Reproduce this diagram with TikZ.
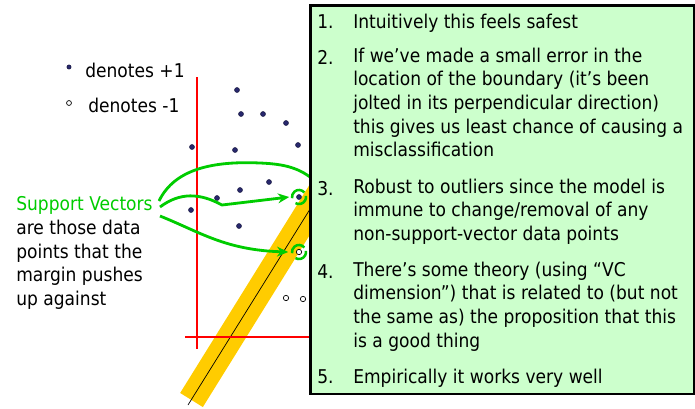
\documentclass[tikz,border=0pt]{standalone}
\usepackage{fontspec}
\setmainfont{DejaVu Sans}[FakeStretch=0.9]
\usetikzlibrary{arrows.meta}
\definecolor{svgreen}{RGB}{0,204,0}
\definecolor{boxgreen}{RGB}{204,255,204}
\definecolor{dotblue}{RGB}{40,40,110}
\definecolor{bandyellow}{RGB}{255,204,0}
\tikzset{
  plusdot/.style={circle, fill=dotblue, draw=dotblue!60!black, inner sep=0pt, minimum size=3.5pt},
  minusdot/.style={circle, fill=white, draw=black, line width=0.5pt, inner sep=0pt, minimum size=3.8pt},
  txt/.style={inner sep=0pt, anchor=north west, align=left, execute at begin node=\strut},
  svarrow/.style={svgreen, line width=2pt, -{Stealth[length=8pt, width=7pt]}},
  svring/.style={svgreen, line width=1.8pt},
}
\begin{document}
\begin{tikzpicture}[x=0.025cm, y=-0.025cm, font=\fontsize{13.5}{16.8}\selectfont]
\useasboundingbox (0,0) rectangle (695,408);
% margin band and separator
\coordinate (bandlo) at (191.5,400);
\coordinate (bandhi) at (340,161);
\draw[bandyellow, line width=19pt] (bandlo) -- (bandhi);
\coordinate (linelo) at (188,405);
\draw[black, line width=0.5pt] (linelo) -- (bandhi);
% other candidate boundaries
\coordinate (vtop) at (197,77);
\coordinate (vbot) at (197,349);
\draw[red, line width=2pt] (vtop) -- (vbot);
\coordinate (hleft) at (185,337);
\coordinate (hright) at (315,337);
\draw[red, line width=2pt] (hleft) -- (hright);
% data points
\foreach \x/\y [count=\i] in {237/90, 241/114, 263/114, 286/123, 298/145, 192/147, 235/150,
    269/182, 240/190, 217/198, 191/210, 239/226}
  \node[plusdot] (p\i) at (\x,\y) {};
\node[plusdot] (sv1) at (299,197) {};
\node[minusdot] (sv2) at (299,252) {};
\node[minusdot] (m1) at (286,298) {};
\node[minusdot] (m2) at (303,299) {};
% rings round the support vectors
\draw[svring] (sv1) ++(40:5pt) arc (40:190:5pt);
\draw[svring] (sv1) ++(240:5pt) arc (240:370:5pt);
\draw[svring] (sv2) ++(40:5pt) arc (40:190:5pt);
\draw[svring] (sv2) ++(240:5pt) arc (240:370:5pt);
% legend
\node[plusdot, minimum size=3pt] (legp) at (69,67) {};
\node[txt] (legptxt) at (85,60.5) {denotes +1};
\node[minusdot, minimum size=3.5pt] (legm) at (69,103) {};
\node[txt] (legmtxt) at (88,95.5) {denotes -1};
% support vector label
\node[txt] (sv) at (16,196.5) {\textcolor{svgreen}{Support Vectors}\\are those data\\points that the\\margin pushes\\up against};
\coordinate (svtop) at (159,201);
\coordinate (svmid) at (160,207);
\coordinate (svlow) at (160,216);
\coordinate (hidden) at (315,181);
\draw[svgreen, line width=2pt] (svtop) .. controls (175,168) and (215,161) .. (260,163) .. controls (285,164) and (300,168) .. (hidden);
\draw[svarrow] (svmid) .. controls (180,192) and (200,193) .. (222,205) -- ([xshift=-5pt]sv1.west);
\draw[svarrow] (svlow) .. controls (200,232) and (225,250) .. ([xshift=-5.5pt]sv2.west);
% reasons box
\node[draw=black, line width=1.8pt, fill=boxgreen, minimum width=273pt, minimum height=276.5pt, inner sep=0pt, anchor=north west] (box) at (309,4) {};
\node[txt] (n1) at (317,11.5) {1.};
\node[txt] (t1) at (353,11.5) {Intuitively this feels safest};
\node[txt] (n2) at (317,47.5) {2.};
\node[txt] (t2) at (353,47.5) {If we’ve made a small error in the\\location of the boundary (it’s been\\jolted in its perpendicular direction)\\this gives us least chance of causing a\\misclassification};
\node[txt] (n3) at (317,178.5) {3.};
\node[txt] (t3) at (353,178.5) {Robust to outliers since the model is\\immune to change/removal of any\\non-support-vector data points};
\node[txt] (n4) at (317,261.5) {4.};
\node[txt] (t4) at (353,261.5) {There’s some theory (using “VC\\dimension”) that is related to (but not\\the same as) the proposition that this\\is a good thing};
\node[txt] (n5) at (317,366.5) {5.};
\node[txt] (t5) at (353,366.5) {Empirically it works very well};
\end{tikzpicture}
\end{document}
